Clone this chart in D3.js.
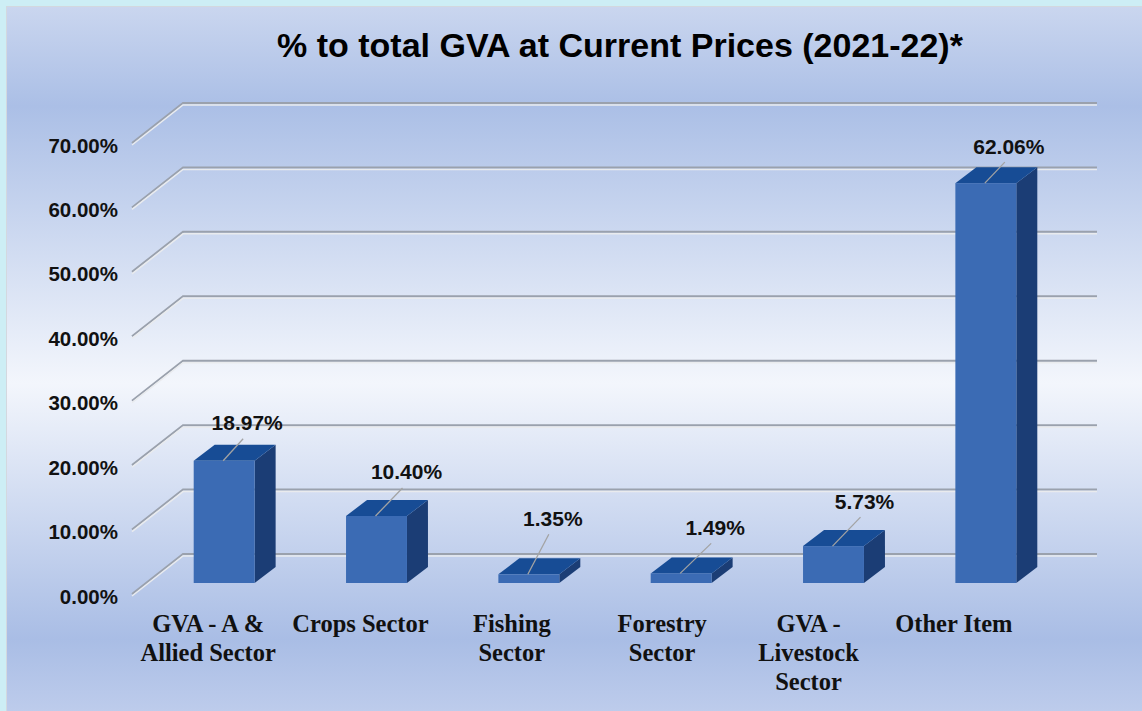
<!DOCTYPE html>
<html>
<head>
<meta charset="utf-8">
<script src="https://cdn.jsdelivr.net/npm/d3@7"></script>
<style>
  html, body { margin: 0; padding: 0; background: #cdeef5; }
  svg { display: block; }
</style>
</head>
<body>
<svg id="chart" width="1142" height="711"></svg>
<script>
// Share in total GVA at current prices, 2021-22
const categories = [
  ["GVA - A &", "Allied Sector"],
  ["Crops Sector"],
  ["Fishing", "Sector"],
  ["Forestry", "Sector"],
  ["GVA -", "Livestock", "Sector"],
  ["Other Item"]
];
const shares = [18.97, 10.40, 1.35, 1.49, 5.73, 62.06];
const yTicks = [0, 10, 20, 30, 40, 50, 60, 70];
const titleText = "% to total GVA at Current Prices (2021-22)*";

// label placement relative to each bar's top-front centre
const labelShift = [[23, -38], [30, -44], [24, -56], [34, -46], [31, -45], [23, -37]];
// horizontal nudge of wrapped category labels from their floor band centre
const catNudge = [0, 0, -1, -3, -9, -16];

const W = 1142, H = 711;
const svg = d3.select("#chart");
const defs = svg.append("defs");

// panel background gradient
const bg = defs.append("linearGradient").attr("id", "bg")
  .attr("x1", 0).attr("y1", 0).attr("x2", 0).attr("y2", 1);
[[0, "#cad6ef"], [0.14, "#abbfe6"], [0.53, "#f3f6fc"], [0.89, "#a9bde5"], [1, "#bfcdec"]]
  .forEach(([o, c]) => bg.append("stop").attr("offset", o).attr("stop-color", c));

svg.append("rect").attr("width", W).attr("height", H).attr("fill", "#cdeef5");
svg.append("rect").attr("x", 6.5).attr("y", 6.5).attr("width", W).attr("height", H)
  .attr("fill", "url(#bg)").attr("stroke", "#d3d8df").attr("stroke-width", 1);

// 3-D geometry: back wall, oblique depth toward the viewer
const backLeft = 183, backRight = 1097;
const depth = [-51, 40];          // back wall -> front edge of floor
const faceShift = [-35, 29];      // back wall -> bar front face
const barDepth = [21, -16];       // bar front face -> bar back face

const y = d3.scaleLinear().domain([0, 70]).range([554, 103]);
const xBack = d3.scaleBand().domain(d3.range(categories.length))
  .range([backLeft, backRight]).paddingInner(0.6).paddingOuter(0.3);
// category bands along the front edge of the floor
const xFront = d3.scaleBand().domain(d3.range(categories.length))
  .range([backLeft + depth[0], backRight + depth[0]]);

// gridlines: oblique stub on the left wall, then along the back wall
const grid = svg.append("g");
yTicks.forEach(t => {
  const yb = y(t);
  const pts = [[backLeft + depth[0], yb + depth[1]], [backLeft, yb], [backRight, yb]];
  const line = d3.line();
  grid.append("path").attr("d", line(pts)).attr("fill", "none")
    .attr("stroke", "#9aa1ad").attr("stroke-width", 2);
  grid.append("path").attr("d", line(pts.map(p => [p[0], p[1] + 2])))
    .attr("fill", "none").attr("stroke", "#e9ebee").attr("stroke-width", 1.5);
});

// y-axis labels on the front plane
svg.append("g").selectAll("text").data(yTicks).join("text")
  .attr("x", 118).attr("y", d => y(d) + depth[1] + 2)
  .attr("text-anchor", "end").attr("dominant-baseline", "central")
  .attr("font-family", "Liberation Sans, Arial, sans-serif")
  .attr("font-weight", "bold").attr("font-size", 20.5).attr("fill", "#111")
  .text(d => d3.format(".2f")(d) + "%");

// bars
const bars = svg.append("g");
shares.forEach((v, i) => {
  const x1 = xBack(i) + faceShift[0];
  const x2 = x1 + xBack.bandwidth();
  const yt = y(v) + faceShift[1];
  const yb = y(0) + faceShift[1];
  const [dx, dy] = barDepth;
  const poly = pts => "M" + pts.map(p => p.join(",")).join("L") + "Z";
  bars.append("path").attr("fill", "#1b3d75")
    .attr("d", poly([[x2, yt], [x2 + dx, yt + dy], [x2 + dx, yb + dy], [x2, yb]]));
  bars.append("path").attr("fill", "#174c95")
    .attr("d", poly([[x1, yt], [x1 + dx, yt + dy], [x2 + dx, yt + dy], [x2, yt]]));
  bars.append("rect").attr("x", x1).attr("y", yt).attr("width", x2 - x1)
    .attr("height", yb - yt).attr("fill", "#3b6bb4");
});

// value labels with leader lines
const vl = svg.append("g");
shares.forEach((v, i) => {
  const cx = xBack(i) + faceShift[0] + xBack.bandwidth() / 2;
  const yt = y(v) + faceShift[1];
  const lx = cx + labelShift[i][0], ly = yt + labelShift[i][1];
  vl.append("line").attr("x1", cx - 1).attr("y1", yt)
    .attr("x2", lx - 4).attr("y2", ly + 16)
    .attr("stroke", "#a3a3a3").attr("stroke-width", 1.3);
  vl.append("text").attr("x", lx).attr("y", ly)
    .attr("text-anchor", "middle").attr("dominant-baseline", "central")
    .attr("font-family", "Liberation Sans, Arial, sans-serif")
    .attr("font-weight", "bold").attr("font-size", 21).attr("fill", "#111")
    .text(v.toFixed(2) + "%");
});

// category labels
const cl = svg.append("g");
categories.forEach((lines, i) => {
  const cx = xFront(i) + xFront.bandwidth() / 2 + catNudge[i];
  const t = cl.append("text").attr("text-anchor", "middle")
    .attr("font-family", "Liberation Serif, Times New Roman, serif")
    .attr("font-weight", "bold").attr("font-size", 24.5).attr("fill", "#111");
  lines.forEach((s, k) => {
    t.append("tspan").attr("x", cx).attr("y", 632 + k * 29).text(s);
  });
});

// title
svg.append("text").attr("x", 620).attr("y", 57).attr("text-anchor", "middle")
  .attr("font-family", "Liberation Sans, Arial, sans-serif")
  .attr("font-weight", "bold").attr("font-size", 34).attr("fill", "#000")
  .text(titleText);
</script>
</body>
</html>
